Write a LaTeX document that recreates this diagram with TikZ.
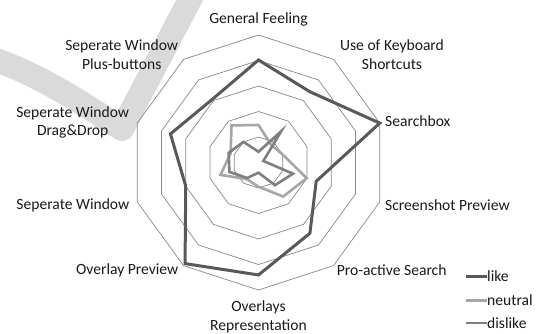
\documentclass[tikz,border=0pt]{standalone}
\usepackage{fontspec}
\setmainfont{Carlito}
\definecolor{likec}{HTML}{595959}
\definecolor{neutc}{HTML}{A6A6A6}
\definecolor{disc}{HTML}{7F7F7F}
\definecolor{gridc}{HTML}{888888}
\definecolor{txtc}{HTML}{1A1A1A}
\definecolor{wmc}{HTML}{DADADA}
\begin{document}
\begin{tikzpicture}[x=1pt,y=-1pt,
  lbl/.style={font=\fontsize{15.6}{18.8}\selectfont, text=txtc, inner sep=0pt, align=center},
  gridline/.style={draw=gridc, line width=0.7pt},
  likeline/.style={draw=likec, line width=3pt, line join=miter},
  neutline/.style={draw=neutc, line width=2.6pt, line join=miter},
  disline/.style={draw=disc, line width=2.6pt, line join=miter}]
\useasboundingbox (0,0) rectangle (539,333);
\fill[white] (0,0) rectangle (539,333);
% watermark
\begin{scope}
\clip (0,0) rectangle (539,333);
\draw[wmc, line width=24pt, line join=round] (-10,58) .. controls (45,76) and (95,112) .. (122,129) -- (196,-12);
\end{scope}
\coordinate (c) at (258.5,162.5);
% grid
\foreach \k in {1,...,5} {
  \draw[gridline, shift={(c)}] (-90:{\k*25.5}) \foreach \a in {-54,-18,...,234} { -- (\a:{\k*25.5}) } -- cycle;
}
% series (angles: GF -90, KB -54, SB -18, SP 18, PA 54, OR 90, OP 126, SW 162, DD 198, PB 234)
\draw[likeline, shift={(c)}] (-90:{4.02*25.5}) -- (-54:{3.43*25.5}) -- (-18:{5.0*25.5}) -- (18:{2.38*25.5}) -- (54:{3.43*25.5}) -- (90:{4.41*25.5}) -- (126:{4.9*25.5}) -- (162:{3.0*25.5}) -- (198:{3.63*25.5}) -- (234:{3.07*25.5}) -- cycle;
\draw[neutline, shift={(c)}] (-90:{1.47*25.5}) -- (-54:{0.85*25.5}) -- (-18:{1.0*25.5}) -- (18:{1.99*25.5}) -- (54:{1.65*25.5}) -- (90:{0.95*25.5}) -- (126:{0.8*25.5}) -- (162:{1.57*25.5}) -- (198:{1.15*25.5}) -- (234:{1.8*25.5}) -- cycle;
\draw[disline, shift={(c)}] (-90:{0.42*25.5}) -- (-54:{1.52*25.5}) -- (-18:{0.2*25.5}) -- (18:{1.42*25.5}) -- (54:{1.1*25.5}) -- (90:{0.4*25.5}) -- (126:{0.75*25.5}) -- (162:{1.2*25.5}) -- (198:{1.23*25.5}) -- (234:{1.0*25.5}) -- cycle;
% labels
\node[lbl] (gf) at (258.5,19) {General Feeling};
\node[lbl] (kb) at (392,54.5) {Use of Keyboard\\Shortcuts};
\node[lbl, anchor=west] (sb) at (385,121) {Searchbox};
\node[lbl, anchor=west] (sp) at (385,205) {Screenshot Preview};
\node[lbl, anchor=west] (pa) at (336.7,270) {Pro-active Search};
\node[lbl] (orp) at (258.5,316.5) {Overlays\\Representation};
\node[lbl, anchor=east] (op) at (178.5,270) {Overlay Preview};
\node[lbl, anchor=east] (sw) at (129.5,205) {Seperate Window};
\node[lbl] (dd) at (72.7,122.5) {Seperate Window\\Drag\&Drop};
\node[lbl] (pb) at (121.7,54.5) {Seperate Window\\Plus-buttons};
% legend
\coordinate (l1a) at (466,276); \coordinate (l1b) at (487,276);
\coordinate (l2a) at (466,300.5); \coordinate (l2b) at (487,300.5);
\coordinate (l3a) at (466,323); \coordinate (l3b) at (487,323);
\draw[likeline] (l1a) -- (l1b);
\draw[neutline] (l2a) -- (l2b);
\draw[disline] (l3a) -- (l3b);
\node[lbl, anchor=west] (lk) at (l1b) {like};
\node[lbl, anchor=west] (nt) at (l2b) {neutral};
\node[lbl, anchor=west] (ds) at (l3b) {dislike};
\end{tikzpicture}
\end{document}
